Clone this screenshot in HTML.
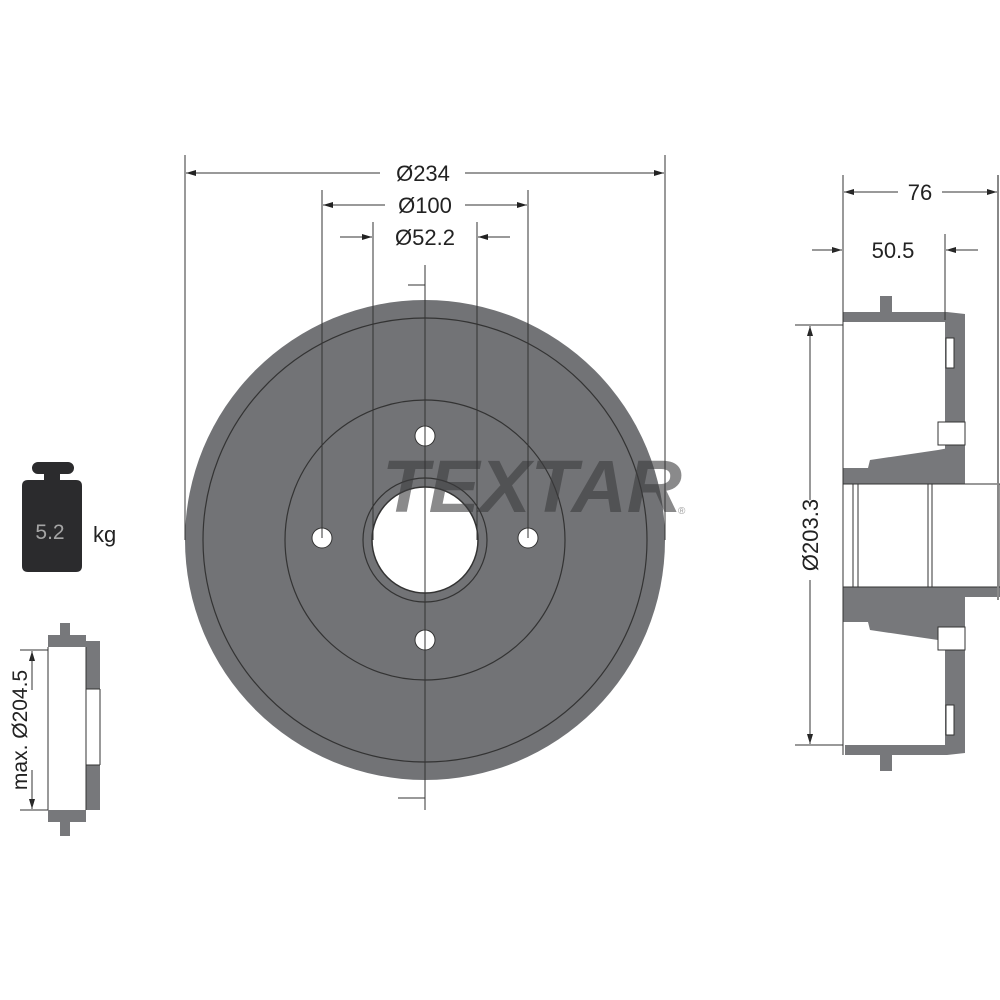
<!DOCTYPE html>
<html><head><meta charset="utf-8"><style>
html,body{margin:0;padding:0;background:#fff}
svg{display:block}
text{font-family:"Liberation Sans",sans-serif;fill:#222}
</style></head><body>
<svg width="1000" height="1000" viewBox="0 0 1000 1000" xmlns="http://www.w3.org/2000/svg">
<!-- main disc -->
<circle cx="425" cy="540" r="240" fill="#727376"/>
<circle cx="425" cy="540" r="222" fill="none" stroke="#333" stroke-width="1.2"/>
<circle cx="425" cy="540" r="140" fill="none" stroke="#333" stroke-width="1.2"/>
<circle cx="425" cy="540" r="62" fill="none" stroke="#333" stroke-width="1.2"/>
<circle cx="425" cy="540" r="53" fill="#fff" stroke="#333" stroke-width="1.5"/>
<circle cx="425" cy="436" r="10" fill="#fff" stroke="#333"/>
<circle cx="425" cy="640" r="10" fill="#fff" stroke="#333"/>
<circle cx="322" cy="538" r="10" fill="#fff" stroke="#333"/>
<circle cx="528" cy="538" r="10" fill="#fff" stroke="#333"/>
<text x="382" y="512" font-size="74" font-weight="bold" font-style="italic" textLength="300" lengthAdjust="spacingAndGlyphs" style="fill:rgba(60,60,62,0.6)">TEXTAR</text>
<text x="678" y="514" font-size="10" style="fill:rgba(90,90,90,0.6)">®</text>
<!-- extension lines -->
<g stroke="#333" stroke-width="1" fill="none">
<line x1="185" y1="155" x2="185" y2="540"/>
<line x1="665" y1="155" x2="665" y2="540"/>
<line x1="322" y1="190" x2="322" y2="538"/>
<line x1="528" y1="190" x2="528" y2="538"/>
<line x1="373" y1="222" x2="373" y2="540"/>
<line x1="477" y1="222" x2="477" y2="540"/>
<line x1="425" y1="265" x2="425" y2="810"/>
<line x1="408" y1="285" x2="425" y2="285"/>
<line x1="398" y1="798" x2="425" y2="798"/>
</g>
<g stroke="#333" stroke-width="1">
<line x1="186" y1="173" x2="380" y2="173"/>
<line x1="465" y1="173" x2="664" y2="173"/>
<line x1="323" y1="205" x2="385" y2="205"/>
<line x1="465" y1="205" x2="527" y2="205"/>
<line x1="340" y1="237" x2="372" y2="237"/>
<line x1="510" y1="237" x2="478" y2="237"/>
</g>
<g fill="#222">
<path d="M186,173 l10,-3 v6z"/><path d="M664,173 l-10,-3 v6z"/>
<path d="M323,205 l10,-3 v6z"/><path d="M527,205 l-10,-3 v6z"/>
<path d="M372,237 l-10,-3 v6z"/><path d="M478,237 l10,-3 v6z"/>
<path d="M844,192 l10,-3 v6z"/><path d="M997,192 l-10,-3 v6z"/>
<path d="M842,250 l-10,-3 v6z"/><path d="M946,250 l10,-3 v6z"/>
<path d="M810,326 l-3,10 h6z"/><path d="M810,744 l-3,-10 h6z"/>
<path d="M32,651 l-3,10 h6z"/><path d="M32,809 l-3,-10 h6z"/>
</g>
<text x="423" y="181" font-size="22" text-anchor="middle">Ø234</text>
<text x="425" y="213" font-size="22" text-anchor="middle">Ø100</text>
<text x="425" y="245" font-size="22" text-anchor="middle">Ø52.2</text>
<!-- weight -->
<path d="M38,462 h30 a6,6 0 0 1 0,12 h-8 v6 h16 q6,0 6,6 v80 q0,6 -6,6 h-48 q-6,0 -6,-6 v-80 q0,-6 6,-6 h16 v-6 h-6 a6,6 0 0 1 0,-12z" fill="#2b2b2d"/>
<text x="50" y="539" font-size="21" text-anchor="middle" style="fill:#a5a5a5">5.2</text>
<text x="93" y="542" font-size="22">kg</text>
<!-- small drum left -->
<g fill="#77787b">
<path d="M60,623 h10 v12 h16 v12 h-38 v-12 h12z"/>
<rect x="86" y="641" width="14" height="48"/>
<rect x="86" y="765" width="14" height="45"/>
<path d="M48,810 h38 v12 h-16 v14 h-10 v-14 h-12z"/>
</g>
<g stroke="#333" stroke-width="1" fill="none">
<line x1="48" y1="647" x2="48" y2="810"/>
<line x1="86" y1="647" x2="86" y2="810"/>
<line x1="86" y1="689" x2="100" y2="689"/>
<line x1="86" y1="765" x2="100" y2="765"/>
<line x1="100" y1="689" x2="100" y2="765"/>
<line x1="20" y1="650" x2="48" y2="650"/>
<line x1="20" y1="810" x2="48" y2="810"/>
<line x1="32" y1="651" x2="32" y2="809"/>
</g>
<rect x="10" y="690" width="30" height="80" fill="#fff"/>
<text transform="translate(27,730) rotate(-90)" font-size="21" text-anchor="middle">max. Ø204.5</text>
<!-- right side view -->
<g fill="#77787b">
<path d="M843,312 h37 v-16 h12 v16 h55 l18,2 v8 h-122z"/>
<path d="M845,745 h120 v8 l-18,2 h-55 v16 h-12 v-16 h-35z"/>
<path d="M945,314 h20 v180 l-20,-2 z"/>
<path d="M945,587 l20,-2 v168 h-20z"/>
<path d="M843,468 h25 l2,-8 l68,-10 l27,-5 v50 h35 v10 h-157z"/>
<path d="M843,587 h157 v10 h-35 v48 l-27,-5 l-68,-10 l-2,-8 h-25z"/>
</g>
<g fill="#fff" stroke="#333" stroke-width="1">
<rect x="946" y="338" width="8" height="30"/>
<rect x="946" y="705" width="8" height="30"/>
<rect x="938" y="422" width="27" height="23"/>
<rect x="938" y="627" width="27" height="23"/>
<rect x="843" y="484" width="157" height="103"/>
</g>
<g stroke="#333" stroke-width="1" fill="none">
<line x1="853" y1="484" x2="853" y2="587"/>
<line x1="858" y1="484" x2="858" y2="587"/>
<line x1="928" y1="484" x2="928" y2="587"/>
<line x1="932" y1="484" x2="932" y2="587"/>
<line x1="843" y1="175" x2="843" y2="755"/>
<line x1="945" y1="234" x2="945" y2="320"/>
<line x1="998" y1="175" x2="998" y2="600" stroke="#888" stroke-width="2"/>
<line x1="795" y1="325" x2="843" y2="325"/>
<line x1="795" y1="745" x2="843" y2="745"/>
<line x1="810" y1="326" x2="810" y2="744"/>
</g>
<g stroke="#333" stroke-width="1">
<line x1="844" y1="192" x2="898" y2="192"/>
<line x1="942" y1="192" x2="997" y2="192"/>
<line x1="812" y1="250" x2="842" y2="250"/>
<line x1="978" y1="250" x2="946" y2="250"/>
</g>
<rect x="798" y="500" width="24" height="80" fill="#fff"/>
<text x="920" y="200" font-size="22" text-anchor="middle">76</text>
<text x="893" y="258" font-size="22" text-anchor="middle">50.5</text>
<text transform="translate(818,535) rotate(-90)" font-size="22" text-anchor="middle">Ø203.3</text>
</svg>
</body></html>
